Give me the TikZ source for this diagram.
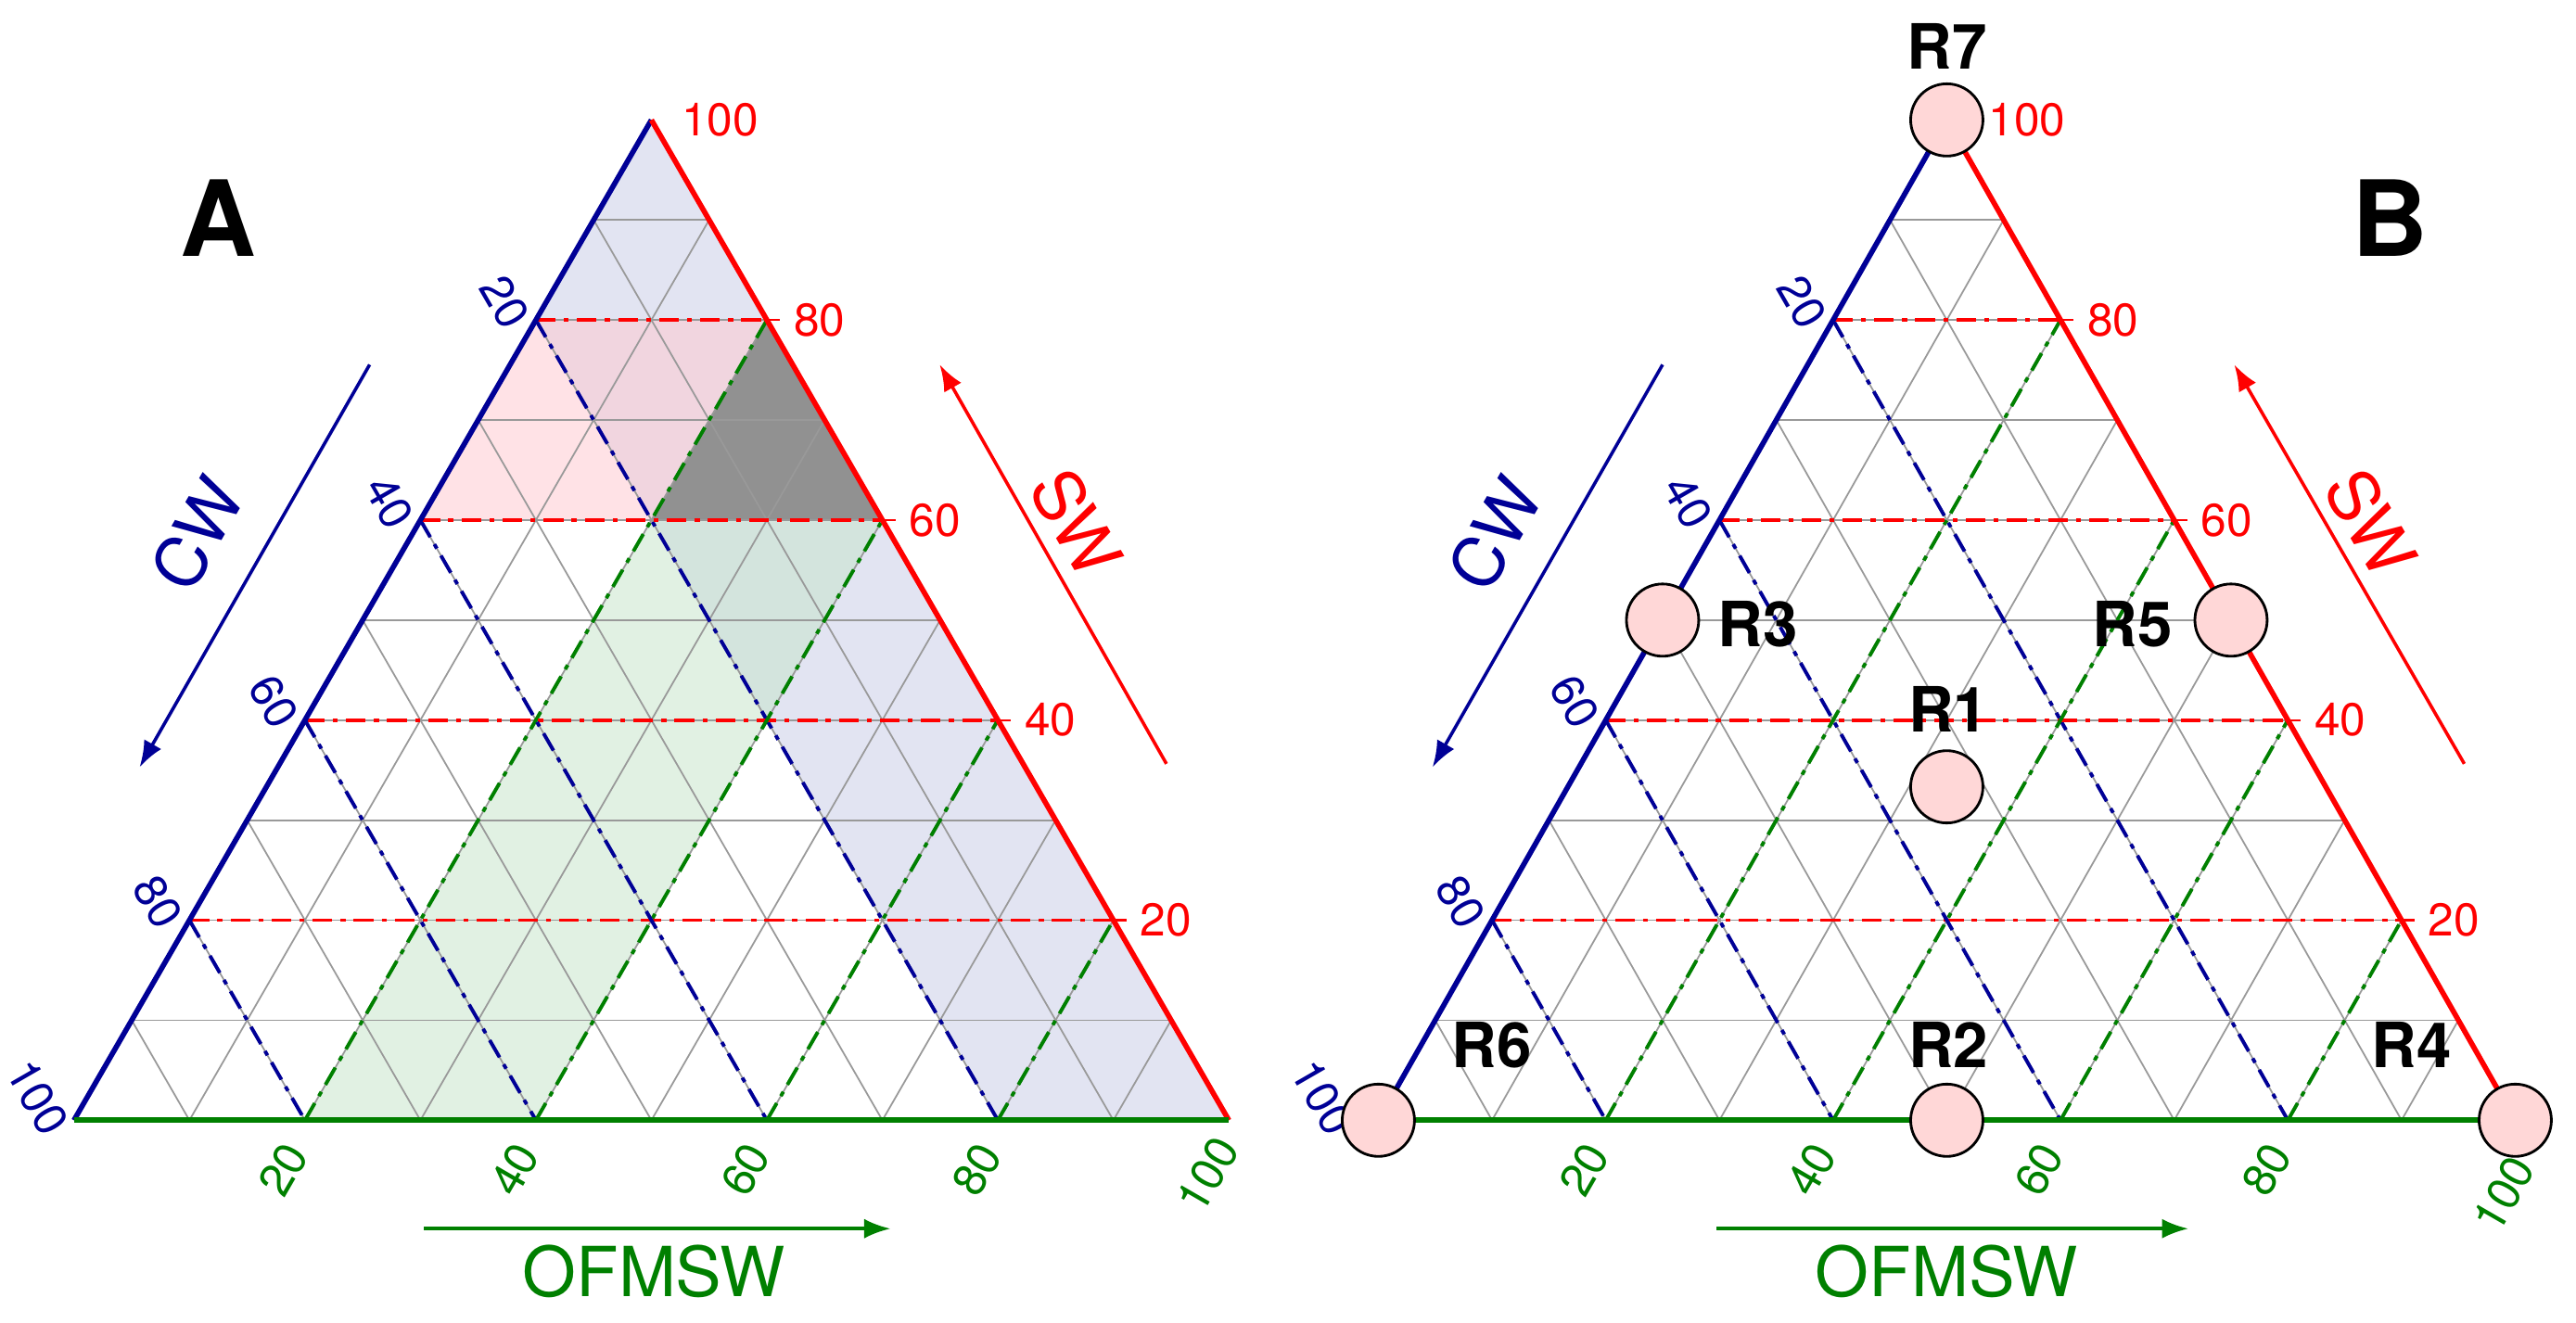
\documentclass[tikz,border=0pt]{standalone}
\usepackage{fontspec}
\setmainfont{TeX Gyre Heros}
\definecolor{cwb}{RGB}{0,0,150}
\definecolor{swr}{RGB}{255,0,0}
\definecolor{ofg}{RGB}{0,128,0}
\definecolor{lav}{RGB}{198,202,230}
\definecolor{pnk}{RGB}{255,198,205}
\definecolor{grn}{RGB}{196,228,200}
\definecolor{rpink}{RGB}{255,215,215}
\definecolor{dgray}{RGB}{145,145,145}
\newcommand{\pt}[2]{({\X+\L*((#1)+(#2)/2)},{682-\H*(#2)})}
\tikzset{
 grid/.style={gray!80,line width=0.5pt},
 dd/.style={line width=1.1pt,dash pattern=on 6pt off 2.5pt on 1.5pt off 2.5pt},
 num/.style={font=\fontsize{14}{14}\selectfont,inner sep=0pt},
 axl/.style={font=\fontsize{21}{21}\selectfont,inner sep=0pt},
 ar/.style={line width=1pt,-{Latex[length=8pt,width=6pt]}},
 big/.style={font=\fontsize{32}{32}\selectfont\bfseries},
 rl/.style={font=\fontsize{19}{19}\selectfont\bfseries,inner sep=0pt},
 rc/.style={circle,draw=black,fill=rpink,line width=0.8pt,minimum size=22pt,inner sep=0pt},
}
\usetikzlibrary{arrows.meta}
% #1 apex label offset, #2 extra offset for corner labels
\newcommand{\tri}[2]{%
 \foreach \i in {1,...,9}{
  \draw[grid] \pt{0}{\i/10} -- \pt{1-\i/10}{\i/10};
  \draw[grid] \pt{\i/10}{0} -- \pt{\i/10}{1-\i/10};
  \draw[grid] \pt{0}{1-\i/10} -- \pt{1-\i/10}{0};
 }
 \foreach \i in {2,4,6,8}{
  \draw[dd,swr] \pt{0}{\i/10} -- \pt{1-\i/10}{\i/10};
  \draw[dd,ofg] \pt{\i/10}{0} -- \pt{\i/10}{1-\i/10};
  \draw[dd,cwb] \pt{0}{1-\i/10} -- \pt{1-\i/10}{0};
 }
 \draw[cwb,line width=1.6pt] \pt{0}{0} -- \pt{0}{1};
 \draw[swr,line width=1.6pt] \pt{0}{1} -- \pt{1}{0};
 \draw[ofg,line width=1.6pt] \pt{0}{0} -- \pt{1}{0};
 \foreach \v/\t in {0.8/20,0.6/40,0.4/60,0.2/80}{
  \path \pt{0}{\v} ++(-19,-11) node[num,cwb,rotate=-60]{\t};
 }
 \path \pt{0}{0} ++(-22-#2,-14) node[num,cwb,rotate=-60]{100};
 \foreach \v/\t in {0.2/20,0.4/40,0.6/60,0.8/80}{
  \path \pt{\v}{0} ++(-13,30) node[num,ofg,rotate=60]{\t};
 }
 \path \pt{1}{0} ++(-13+#2*0.5,33+#2) node[num,ofg,rotate=60]{100};
 \foreach \v/\t in {0.8/80,0.6/60,0.4/40,0.2/20}{
  \path \pt{1-\v}{\v} ++(16,0) node[num,swr,anchor=west]{\t};
  \draw[swr,line width=0.6pt] \pt{1-\v}{\v} -- ++(8,0);
 }
 \path \pt{0}{1} ++(#1,0) node[num,swr,anchor=west]{100};
}
\begin{document}
\begin{tikzpicture}[x=0.5pt,y=-0.5pt]
\useasboundingbox (0,0) rectangle (1568,805);
% ---------- A ----------
\def\X{45}\def\L{703}\def\H{609}
\fill[lav,opacity=0.5] \pt{0}{0.8} -- \pt{0}{1} -- \pt{1}{0} -- \pt{0.8}{0} -- cycle;
\fill[pnk,opacity=0.5] \pt{0}{0.6} -- \pt{0.4}{0.6} -- \pt{0.2}{0.8} -- \pt{0}{0.8} -- cycle;
\fill[grn,opacity=0.5] \pt{0.2}{0} -- \pt{0.4}{0} -- \pt{0.4}{0.6} -- \pt{0.2}{0.8} -- cycle;
\fill[dgray] \pt{0.2}{0.6} -- \pt{0.4}{0.6} -- \pt{0.2}{0.8} -- cycle;
\tri{18}{0}
\node[big] (lA) at (133,133) {A};
\coordinate (cwa1) at (225,222); \coordinate (cwa2) at (85,467);
\draw[ar,cwb] (cwa1) -- (cwa2);
\node[axl,cwb,rotate=60] (cwA) at (120,325) {CW};
\coordinate (swa1) at (710,465); \coordinate (swa2) at (572,222);
\draw[ar,swr] (swa1) -- (swa2);
\node[axl,swr,rotate=-60] (swA) at (655,318) {SW};
\coordinate (ofa1) at (258,748); \coordinate (ofa2) at (542,748);
\draw[ar,ofg] (ofa1) -- (ofa2);
\node[axl,ofg] (ofA) at (398,774) {OFMSW};
% ---------- B ----------
\def\X{839}\def\L{692}\def\H{609}
\tri{25}{12}
\node[big] (lB) at (1455,133) {B};
\coordinate (cwb1) at (1012,222); \coordinate (cwb2) at (872,467);
\draw[ar,cwb] (cwb1) -- (cwb2);
\node[axl,cwb,rotate=60] (cwB) at (910,325) {CW};
\coordinate (swb1) at (1500,465); \coordinate (swb2) at (1360,222);
\draw[ar,swr] (swb1) -- (swb2);
\node[axl,swr,rotate=-60] (swB) at (1443,318) {SW};
\coordinate (ofb1) at (1045,748); \coordinate (ofb2) at (1332,748);
\draw[ar,ofg] (ofb1) -- (ofb2);
\node[axl,ofg] (ofB) at (1185,774) {OFMSW};
\node[rc] (r7) at \pt{0}{1} {};
\node[rc] (r3) at \pt{0}{0.5} {};
\node[rc] (r5) at \pt{0.5}{0.5} {};
\node[rc] (r1) at \pt{1/3}{1/3} {};
\node[rc] (r2) at \pt{0.5}{0} {};
\node[rc] (r6) at \pt{0}{0} {};
\node[rc] (r4) at \pt{1}{0} {};
\node[rl] (t7) at (1185,28) {R7};
\node[rl] (t3) at (1070,380) {R3};
\node[rl] (t5) at (1298,380) {R5};
\node[rl] (t1) at (1186,432) {R1};
\node[rl] (t2) at (1186,636) {R2};
\node[rl] (t6) at (908,636) {R6};
\node[rl] (t4) at (1468,636) {R4};
\end{tikzpicture}
\end{document}
